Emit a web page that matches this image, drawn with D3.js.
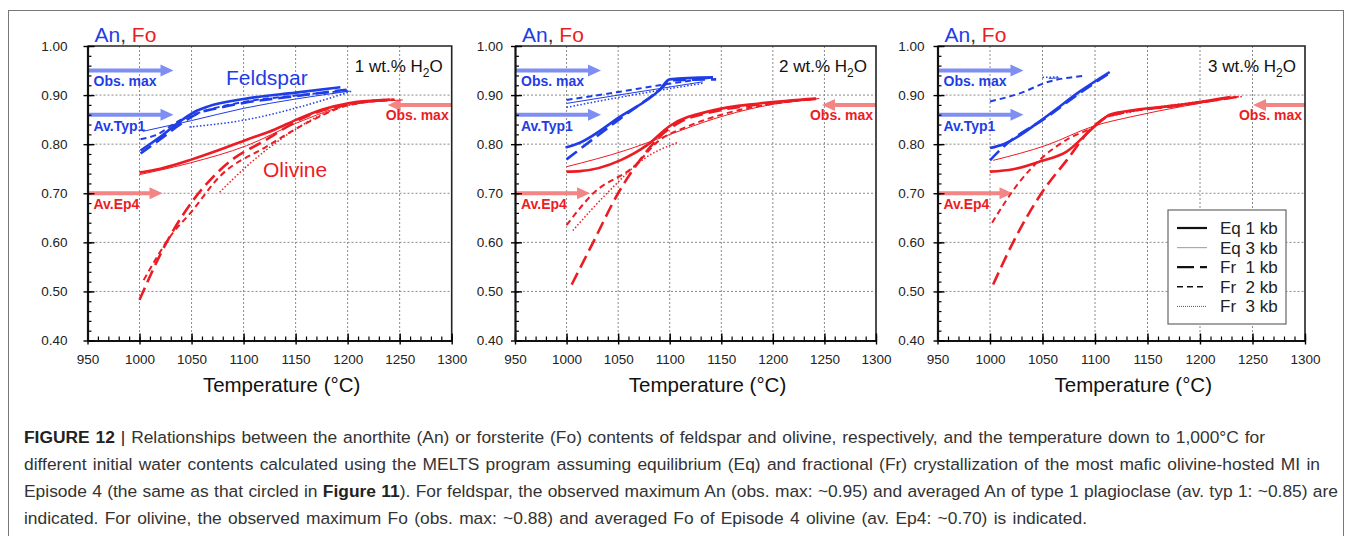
<!DOCTYPE html>
<html>
<head>
<meta charset="utf-8">
<script src="https://cdn.jsdelivr.net/npm/d3@7/dist/d3.min.js"></script>
<style>
  body { margin: 0; background: #fff; }
  text { font-family: "Liberation Sans", Arial, sans-serif; }
</style>
</head>
<body>
<svg id="chart" width="1356" height="536"></svg>
<script>
// ---- data ----
var xTicks = [950, 1000, 1050, 1100, 1150, 1200, 1250, 1300];
var yTicks = [0.40, 0.50, 0.60, 0.70, 0.80, 0.90, 1.00];
var waterLabels = ["1", "2", "3"];
var legendLabels = ["Eq 1 kb", "Eq 3 kb", "Fr  1 kb", "Fr  2 kb", "Fr  3 kb"];
var seriesKeys = ["eq1", "eq3", "fr1", "fr2", "fr3"];

// observed / averaged reference values
var anObsMax = 0.95, anAvTyp1 = 0.86;
var foObsMax = 0.88, foAvEp4 = 0.70;

// panel 1: 1 wt.% H2O
var an1_eq1 = [[1001,0.787],[1020,0.815],[1040,0.848],[1055,0.868],[1066,0.877],[1100,0.892],[1150,0.905],[1193,0.916]];
var an1_eq3 = [[1003,0.826],[1050,0.848],[1100,0.873],[1150,0.892],[1202,0.908]];
var an1_fr1 = [[1001,0.781],[1020,0.810],[1040,0.842],[1060,0.866],[1070,0.871],[1100,0.884],[1150,0.898],[1199,0.911]];
var an1_fr2 = [[1001,0.810],[1015,0.818],[1040,0.850],[1060,0.866],[1100,0.886],[1150,0.899],[1200,0.909]];
var an1_fr3 = [[1048,0.835],[1103,0.850],[1151,0.874],[1204,0.908]];
var fo1_eq1 = [[1000,0.742],[1020,0.750],[1049,0.768],[1075,0.787],[1103,0.809],[1130,0.830],[1151,0.850],[1175,0.870],[1202,0.884],[1241,0.891]];
var fo1_eq3 = [[1000,0.738],[1049,0.762],[1103,0.797],[1151,0.843],[1202,0.880],[1253,0.890]];
var fo1_fr1 = [[1000,0.483],[1026,0.600],[1052,0.687],[1071,0.734],[1090,0.770],[1116,0.802],[1161,0.857],[1202,0.882],[1245,0.891]];
var fo1_fr2 = [[1004,0.523],[1032,0.619],[1049,0.660],[1077,0.734],[1122,0.795],[1167,0.850],[1202,0.880],[1245,0.890]];
var fo1_fr3 = [[1077,0.702],[1103,0.755],[1135,0.809],[1170,0.855],[1202,0.880],[1245,0.890]];

// panel 2: 2 wt.% H2O
var an2_eq1 = [[999,0.793],[1013,0.803],[1052,0.856],[1090,0.910],[1100,0.932],[1142,0.936]];
var an2_eq3 = [[1000,0.883],[1050,0.900],[1132,0.927]];
var an2_fr1 = [[1000,0.769],[1013,0.790],[1052,0.852],[1090,0.910],[1102,0.930],[1145,0.932]];
var an2_fr2 = [[1000,0.890],[1052,0.907],[1090,0.920],[1142,0.936]];
var an2_fr3 = [[1000,0.875],[1050,0.895],[1132,0.924]];
var fo2_eq1 = [[1000,0.744],[1013,0.745],[1052,0.767],[1078,0.798],[1100,0.837],[1142,0.869],[1187,0.883],[1242,0.893]];
var fo2_eq3 = [[1000,0.754],[1058,0.788],[1103,0.822],[1142,0.851],[1187,0.876],[1245,0.893]];
var fo2_fr1 = [[1005,0.514],[1026,0.601],[1050,0.700],[1071,0.767],[1090,0.815],[1110,0.845],[1142,0.866],[1187,0.881],[1242,0.892]];
var fo2_fr2 = [[1000,0.635],[1026,0.700],[1065,0.754],[1090,0.808],[1116,0.835],[1155,0.863],[1190,0.879],[1242,0.892]];
var fo2_fr3 = [[1006,0.624],[1042,0.706],[1075,0.770],[1107,0.803]];

// panel 3: 3 wt.% H2O
var an3_eq1 = [[1000,0.792],[1013,0.800],[1054,0.857],[1086,0.908],[1114,0.947]];
var an3_eq3 = [[1056,0.934],[1066,0.935]];
var an3_fr1 = [[1000,0.767],[1013,0.795],[1054,0.855],[1086,0.905],[1114,0.945]];
var an3_fr2 = [[1000,0.887],[1029,0.904],[1054,0.926],[1089,0.939]];
var an3_fr3 = [[1050,0.936],[1066,0.937]];
var fo3_eq1 = [[1000,0.744],[1022,0.749],[1048,0.765],[1073,0.785],[1098,0.833],[1114,0.860],[1130,0.867],[1181,0.880],[1229,0.896]];
var fo3_eq3 = [[1003,0.767],[1054,0.798],[1099,0.837],[1137,0.857],[1181,0.876],[1237,0.897]];
var fo3_fr1 = [[1003,0.514],[1022,0.600],[1049,0.700],[1073,0.767],[1098,0.835],[1114,0.858],[1181,0.879],[1235,0.896]];
var fo3_fr2 = [[1002,0.640],[1027,0.720],[1051,0.775],[1073,0.809],[1098,0.835],[1114,0.858],[1181,0.879],[1235,0.896]];
var fo3_fr3 = [[1110,0.855],[1150,0.872],[1200,0.887],[1240,0.897]];

var anSeries = [
  {eq1: an1_eq1, eq3: an1_eq3, fr1: an1_fr1, fr2: an1_fr2, fr3: an1_fr3},
  {eq1: an2_eq1, eq3: an2_eq3, fr1: an2_fr1, fr2: an2_fr2, fr3: an2_fr3},
  {eq1: an3_eq1, eq3: an3_eq3, fr1: an3_fr1, fr2: an3_fr2, fr3: an3_fr3}
];
var foSeries = [
  {eq1: fo1_eq1, eq3: fo1_eq3, fr1: fo1_fr1, fr2: fo1_fr2, fr3: fo1_fr3},
  {eq1: fo2_eq1, eq3: fo2_eq3, fr1: fo2_fr1, fr2: fo2_fr2, fr3: fo2_fr3},
  {eq1: fo3_eq1, eq3: fo3_eq3, fr1: fo3_fr1, fr2: fo3_fr2, fr3: fo3_fr3}
];

var captionLines = [
  "Relationships between the anorthite (An) or forsterite (Fo) contents of feldspar and olivine, respectively, and the temperature down to 1,000\u00b0C for",
  "different initial water contents calculated using the MELTS program assuming equilibrium (Eq) and fractional (Fr) crystallization of the most mafic olivine-hosted MI in",
  "Episode 4 (the same as that circled in |Figure 11|). For feldspar, the observed maximum An (obs. max: ~0.95) and averaged An of type 1 plagioclase (av. typ 1: ~0.85) are",
  "indicated. For olivine, the observed maximum Fo (obs. max: ~0.88) and averaged Fo of Episode 4 olivine (av. Ep4: ~0.70) is indicated."
];

// ---- layout / styles ----
var panels = [
  {x0: 87.5, x1: 451.7, labelGap: 16, rightArrow: 64},
  {x0: 515,  x1: 876,   labelGap: 8,  rightArrow: 54},
  {x0: 937.5, x1: 1305, labelGap: 9,  rightArrow: 52}
];
var captionEnds = [1265, 1320, 1338, 1087];
var yTop = 46, yBot = 340.5;
var BLUE = "#1f3de6", RED = "#ec1c24";
var BLUE_ARROW = "#7f8ef3", RED_ARROW = "#f38585";
var styles = {
  eq1: {w: 2.6, dash: null},
  eq3: {w: 1.0, dash: null},
  fr1: {w: 2.6, dash: "13,6"},
  fr2: {w: 2.0, dash: "6,4"},
  fr3: {w: 1.5, dash: "1.5,2"}
};

var svg = d3.select("#chart");

// outer frame
svg.append("rect")
  .attr("x", 8.5).attr("y", 10.5)
  .attr("width", 1335).attr("height", 540)
  .attr("fill", "none").attr("stroke", "#777").attr("stroke-width", 1);

function arrow(g, xa, xb, yy, color) {
  var dir = xb > xa ? 1 : -1;
  g.append("line")
    .attr("x1", xa).attr("x2", xb - dir * 11)
    .attr("y1", yy).attr("y2", yy)
    .attr("stroke", color).attr("stroke-width", 4);
  g.append("path")
    .attr("d", "M" + xb + "," + yy + "L" + (xb - dir * 13) + "," + (yy - 6) + "L" + (xb - dir * 13) + "," + (yy + 6) + "Z")
    .attr("fill", color);
}

panels.forEach(function(p, i) {
  var x = d3.scaleLinear().domain([950, 1300]).range([p.x0, p.x1]);
  var y = d3.scaleLinear().domain([0.4, 1.0]).range([yBot, yTop]);
  var g = svg.append("g");

  // dotted grid
  g.selectAll(".gx").data(xTicks.slice(1, -1)).enter().append("line")
    .attr("x1", function(d) { return x(d); }).attr("x2", function(d) { return x(d); })
    .attr("y1", yTop).attr("y2", yBot)
    .attr("stroke", "#8a8a8a").attr("stroke-width", 1).attr("stroke-dasharray", "2,2");
  g.selectAll(".gy").data(yTicks.slice(1, -1)).enter().append("line")
    .attr("y1", function(d) { return y(d); }).attr("y2", function(d) { return y(d); })
    .attr("x1", p.x0).attr("x2", p.x1)
    .attr("stroke", "#8a8a8a").attr("stroke-width", 1).attr("stroke-dasharray", "2,2");

  // arrows for observed / averaged values
  var lx = p.x0 + 6;
  arrow(g, p.x0, p.x0 + 86, y(anObsMax), BLUE_ARROW);
  arrow(g, p.x0, p.x0 + 86, y(anAvTyp1), BLUE_ARROW);
  arrow(g, p.x0, p.x0 + 75, y(foAvEp4), RED_ARROW);
  arrow(g, p.x1, p.x1 - p.rightArrow, y(foObsMax), RED_ARROW);
  var lab = [
    {t: "Obs. max", x: lx, y: y(anObsMax) + 15, c: BLUE, a: "start"},
    {t: "Av.Typ1", x: lx, y: y(anAvTyp1) + 16, c: BLUE, a: "start"},
    {t: "Av.Ep4", x: lx, y: y(foAvEp4) + 16, c: RED, a: "start"},
    {t: "Obs. max", x: p.x1 - 3, y: y(foObsMax) + 15, c: RED, a: "end"}
  ];
  g.selectAll(".al").data(lab).enter().append("text")
    .attr("x", function(d) { return d.x; }).attr("y", function(d) { return d.y; })
    .attr("text-anchor", function(d) { return d.a; })
    .attr("fill", function(d) { return d.c; })
    .attr("font-size", 14).attr("font-weight", "bold")
    .text(function(d) { return d.t; });

  // curves
  var line = d3.line()
    .x(function(d) { return x(d[0]); })
    .y(function(d) { return y(d[1]); })
    .curve(d3.curveMonotoneX);
  [[foSeries[i], RED], [anSeries[i], BLUE]].forEach(function(pair) {
    seriesKeys.forEach(function(k) {
      g.append("path")
        .datum(pair[0][k])
        .attr("d", line)
        .attr("fill", "none")
        .attr("stroke", pair[1])
        .attr("stroke-width", styles[k].w)
        .attr("stroke-dasharray", styles[k].dash)
        .attr("stroke-linejoin", "round");
    });
  });

  // box top/right
  g.append("path")
    .attr("d", "M" + p.x0 + "," + yTop + "H" + p.x1 + "V" + yBot)
    .attr("fill", "none").attr("stroke", "#222").attr("stroke-width", 1.6);

  // axes
  var minorX = d3.range(950, 1301, 10);
  var minorY = d3.range(0.40, 1.001, 0.02);
  g.append("g").attr("transform", "translate(0," + yBot + ")")
    .call(d3.axisBottom(x).tickValues(minorX).tickSize(-4).tickSizeOuter(0).tickFormat(""))
    .call(function(a) { a.select(".domain").remove(); a.selectAll("line").attr("stroke-width", 1.2); });
  g.append("g").attr("transform", "translate(" + p.x0 + ",0)")
    .call(d3.axisLeft(y).tickValues(minorY).tickSize(-4).tickSizeOuter(0).tickFormat(""))
    .call(function(a) { a.select(".domain").remove(); a.selectAll("line").attr("stroke-width", 1.2); });

  var xa = g.append("g").attr("transform", "translate(0," + yBot + ")")
    .call(d3.axisBottom(x).tickValues(xTicks).tickSize(4).tickSizeOuter(0).tickPadding(10).tickFormat(d3.format("d")));
  xa.select(".domain").attr("stroke-width", 2.2).attr("stroke", "#111");
  xa.selectAll(".tick line").attr("y1", -7).attr("stroke-width", 1.4);
  xa.selectAll("text").attr("font-size", 13.5).attr("fill", "#222").style("font-family", "'Liberation Sans', Arial, sans-serif");

  var ya = g.append("g").attr("transform", "translate(" + p.x0 + ",0)")
    .call(d3.axisLeft(y).tickValues(yTicks).tickSize(4).tickSizeOuter(0).tickPadding(p.labelGap).tickFormat(d3.format(".2f")));
  ya.select(".domain").attr("stroke-width", 2.2).attr("stroke", "#111");
  ya.selectAll(".tick line").attr("x1", 7).attr("stroke-width", 1.4);
  ya.selectAll("text").attr("font-size", 13.5).attr("fill", "#222").style("font-family", "'Liberation Sans', Arial, sans-serif");

  // axis title
  g.append("text")
    .attr("x", (p.x0 + p.x1) / 2 + 12).attr("y", 392)
    .attr("text-anchor", "middle").attr("font-size", 20.5).attr("fill", "#111")
    .text("Temperature (\u00b0C)");

  // "An, Fo"
  var af = g.append("text").attr("x", p.x0 + 7).attr("y", 42).attr("font-size", 21);
  af.append("tspan").attr("fill", BLUE).text("An");
  af.append("tspan").attr("fill", "#333").text(", ");
  af.append("tspan").attr("fill", RED).text("Fo");

  // water content label
  var wl = g.append("text").attr("x", p.x1 - 9).attr("y", 72)
    .attr("text-anchor", "end").attr("font-size", 17).attr("fill", "#111");
  wl.append("tspan").text(waterLabels[i] + " wt.% H");
  wl.append("tspan").attr("dy", 5).attr("font-size", 12).text("2");
  wl.append("tspan").attr("dy", -5).text("O");

  if (i === 0) {
    g.append("text").attr("x", 226).attr("y", 85).attr("font-size", 21)
      .attr("fill", BLUE).text("Feldspar");
    g.append("text").attr("x", 263).attr("y", 177).attr("font-size", 21)
      .attr("fill", RED).text("Olivine");
  }

  if (i === 2) {
    var lg = g.append("g").attr("transform", "translate(1168,210)");
    lg.append("rect").attr("width", 118).attr("height", 114)
      .attr("fill", "#fff").attr("stroke", "#666").attr("stroke-width", 1.2);
    var legStyles = [
      {c: "#111", w: 2.2, dash: null},
      {c: "#aaa", w: 1.2, dash: null},
      {c: "#111", w: 2.2, dash: "17,6"},
      {c: "#111", w: 1.6, dash: "6,4"},
      {c: "#555", w: 1.0, dash: "1,1"}
    ];
    legendLabels.forEach(function(t, j) {
      var yy = 18 + j * 19.6;
      lg.append("line").attr("x1", 9).attr("x2", 39).attr("y1", yy).attr("y2", yy)
        .attr("stroke", legStyles[j].c).attr("stroke-width", legStyles[j].w)
        .attr("stroke-dasharray", legStyles[j].dash);
      lg.append("text").attr("x", 52).attr("y", yy + 6).attr("font-size", 17)
        .attr("fill", "#222").attr("xml:space", "preserve").text(t);
    });
  }
});

// caption, word spacing stretched so each line ends where it does in the figure
var cap = svg.append("g").attr("font-size", 17.4).attr("fill", "#333");
captionLines.forEach(function(line, j) {
  var t = cap.append("text").attr("x", 24).attr("y", 443 + j * 27);
  if (j === 0) {
    t.append("tspan").attr("font-weight", "bold").attr("fill", "#222").text("FIGURE 12 ");
    t.append("tspan").attr("fill", "#222").text("| ");
  }
  line.split("|").forEach(function(part, k) {
    t.append("tspan").attr("font-weight", k % 2 ? "bold" : null)
      .attr("fill", k % 2 ? "#222" : null).text(part);
  });
  var len = t.node().getComputedTextLength();
  var spaces = (t.text().match(/ /g) || []).length;
  var ws = (captionEnds[j] - 24 - len) / spaces;
  t.attr("word-spacing", Math.max(-2, Math.min(4, ws)));
});
</script>
</body>
</html>
